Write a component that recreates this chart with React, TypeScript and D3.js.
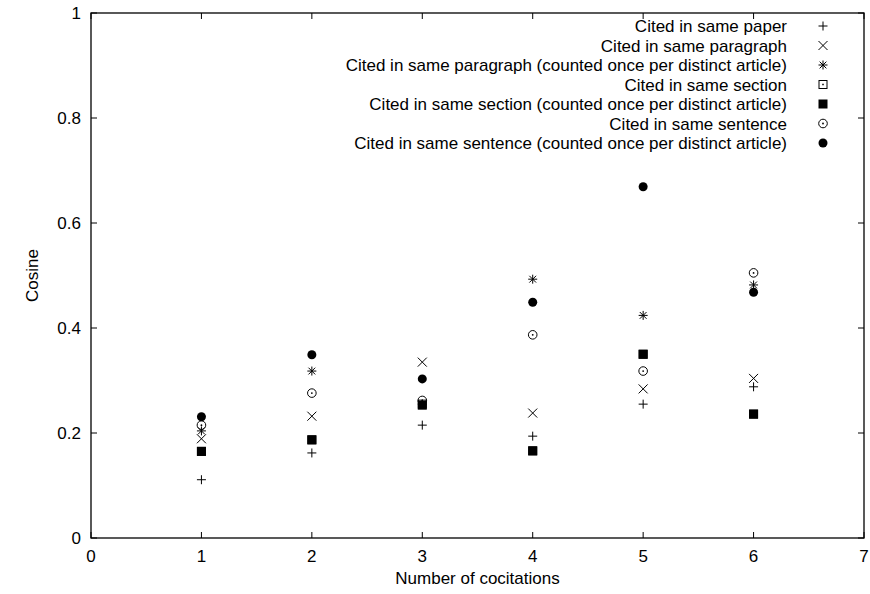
import React from "react";
import * as d3 from "d3";

const xs = [1, 2, 3, 4, 5, 6];
const paper = [0.111, 0.162, 0.215, 0.194, 0.255, 0.288];
const paragraph = [0.189, 0.232, 0.335, 0.238, 0.284, 0.304];
const paragraphDistinct = [0.204, 0.318, 0.255, 0.493, 0.424, 0.482];
const section = [0.165, 0.187, 0.255, 0.166, 0.350, 0.236];
const sectionDistinct = [0.165, 0.187, 0.253, 0.166, 0.350, 0.236];
const sentence = [0.215, 0.276, 0.262, 0.387, 0.318, 0.505];
const sentenceDistinct = [0.231, 0.349, 0.303, 0.449, 0.669, 0.468];
const xTicks = [0, 1, 2, 3, 4, 5, 6, 7];
const yTicks = [0, 0.2, 0.4, 0.6, 0.8, 1];

const seriesNames = [
  "Cited in same paper",
  "Cited in same paragraph",
  "Cited in same paragraph (counted once per distinct article)",
  "Cited in same section",
  "Cited in same section (counted once per distinct article)",
  "Cited in same sentence",
  "Cited in same sentence (counted once per distinct article)",
];
const seriesValues = [paper, paragraph, paragraphDistinct, section, sectionDistinct, sentence, sentenceDistinct];
const markers = ["plus", "cross", "star", "boxdot", "box", "circledot", "circle"];

function Marker({ type, x, y }: { type: string; x: number; y: number }) {
  const s = 4.5;
  const st = { stroke: "#000", strokeWidth: 1, fill: "none" } as const;
  switch (type) {
    case "plus":
      return <path d={`M${x - s},${y}H${x + s}M${x},${y - s}V${y + s}`} {...st} />;
    case "cross":
      return <path d={`M${x - s},${y - s}L${x + s},${y + s}M${x - s},${y + s}L${x + s},${y - s}`} {...st} />;
    case "star":
      return (
        <path
          d={`M${x - s},${y}H${x + s}M${x},${y - s}V${y + s}M${x - s * 0.75},${y - s * 0.75}L${x + s * 0.75},${y + s * 0.75}M${x - s * 0.75},${y + s * 0.75}L${x + s * 0.75},${y - s * 0.75}`}
          {...st}
        />
      );
    case "boxdot":
      return (
        <g>
          <rect x={x - 4} y={y - 4} width={8} height={8} {...st} />
          <rect x={x - 0.75} y={y - 0.75} width={1.5} height={1.5} fill="#000" />
        </g>
      );
    case "box":
      return <rect x={x - 4.5} y={y - 4.5} width={9} height={9} fill="#000" />;
    case "circledot":
      return (
        <g>
          <circle cx={x} cy={y} r={4.3} {...st} />
          <circle cx={x} cy={y} r={0.9} fill="#000" />
        </g>
      );
    case "circle":
      return <circle cx={x} cy={y} r={4.5} fill="#000" />;
  }
  return null;
}

export default function App() {
  const W = 870, H = 594;
  const left = 91, right = 864, top = 13, bottom = 538;
  const x = d3.scaleLinear().domain([0, 7]).range([left, right]);
  const y = d3.scaleLinear().domain([0, 1]).range([bottom, top]);
  const font = "'Liberation Sans', Arial, Helvetica, sans-serif";
  const fs = 17;
  const tl = 6;
  return (
    <svg width={W} height={H} style={{ position: "absolute", left: 0, top: 0, background: "#fff" }} fontFamily={font}>
      <rect x={0} y={0} width={W} height={H} fill="#fff" />
      {xTicks.map((t) => (
        <g key={"x" + t}>
          <line x1={x(t)} x2={x(t)} y1={bottom} y2={bottom - tl} stroke="#000" />
          <line x1={x(t)} x2={x(t)} y1={top} y2={top + tl} stroke="#000" />
          <text x={x(t)} y={bottom + 24} fontSize={fs} textAnchor="middle" fill="#000">
            {t}
          </text>
        </g>
      ))}
      {yTicks.map((t) => (
        <g key={"y" + t}>
          <line x1={left} x2={left + tl} y1={y(t)} y2={y(t)} stroke="#000" />
          <line x1={right} x2={right - tl} y1={y(t)} y2={y(t)} stroke="#000" />
          <text x={left - 10} y={y(t) + 6} fontSize={fs} textAnchor="end" fill="#000">
            {d3.format("~g")(t)}
          </text>
        </g>
      ))}
      <rect x={left} y={top} width={right - left} height={bottom - top} fill="none" stroke="#000" strokeWidth={1.3} />
      <text x={(left + right) / 2} y={584} fontSize={fs} textAnchor="middle" fill="#000">
        Number of cocitations
      </text>
      <text transform={`translate(38,${(top + bottom) / 2}) rotate(-90)`} fontSize={fs} textAnchor="middle" fill="#000">
        Cosine
      </text>
      {seriesNames.map((n, i) => (
        <g key={n}>
          <text x={787} y={32 + i * 19.5} fontSize={fs} textAnchor="end" fill="#000">
            {n}
          </text>
          <Marker type={markers[i]} x={823} y={26 + i * 19.5} />
        </g>
      ))}
      {seriesValues.map((vals, i) =>
        vals.map((v, j) => <Marker key={i + "-" + j} type={markers[i]} x={x(xs[j])} y={y(v)} />)
      )}
    </svg>
  );
}
